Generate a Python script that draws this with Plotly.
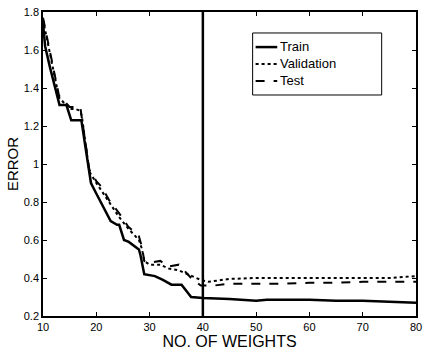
import plotly.graph_objects as go

train_x = [10, 10.4, 11.3, 13.1, 14.4, 15.3, 17.2, 18.7, 19.0, 19.9, 21.2, 22.7, 23.9, 24.3, 25.2, 26.1, 28.0, 28.3, 29.0, 31.0, 32.5, 34.1, 36.0, 37.8, 40, 45, 50, 52, 55, 60, 65, 70, 75, 80]
train_y = [1.74, 1.62, 1.51, 1.31, 1.31, 1.23, 1.23, 0.96, 0.90, 0.85, 0.78, 0.70, 0.68, 0.68, 0.60, 0.59, 0.55, 0.52, 0.42, 0.41, 0.39, 0.365, 0.365, 0.30, 0.295, 0.29, 0.28, 0.285, 0.285, 0.285, 0.28, 0.28, 0.275, 0.27]

val_x = [10, 11, 12, 13, 14, 15, 16, 17, 17.3, 18.7, 20, 21, 22.4, 24.3, 26, 28, 28.6, 29, 30, 32, 33.6, 35.5, 37.8, 39.6, 41, 45, 50, 55, 60, 65, 70, 75, 80]
val_y = [1.76, 1.62, 1.48, 1.35, 1.32, 1.29, 1.29, 1.28, 1.25, 0.96, 0.90, 0.86, 0.80, 0.72, 0.66, 0.60, 0.55, 0.49, 0.47, 0.47, 0.45, 0.44, 0.41, 0.39, 0.38, 0.395, 0.40, 0.40, 0.40, 0.40, 0.40, 0.40, 0.41]

test_x = [10, 11, 12, 13, 14, 15, 16, 17, 17.3, 18.7, 20, 21, 22.4, 24.3, 26, 28, 28.6, 29, 30, 32, 33.6, 35.5, 37.8, 39.6, 42, 45, 50, 55, 60, 65, 70, 75, 80]
test_y = [1.77, 1.63, 1.49, 1.36, 1.33, 1.30, 1.30, 1.30, 1.24, 0.97, 0.91, 0.88, 0.81, 0.74, 0.67, 0.62, 0.56, 0.49, 0.48, 0.49, 0.46, 0.47, 0.40, 0.36, 0.36, 0.37, 0.37, 0.37, 0.375, 0.375, 0.38, 0.38, 0.38]

series_names = ["Train", "Validation", "Test"]
x_ticks = [10, 20, 30, 40, 50, 60, 70, 80]
y_ticks = [0.2, 0.4, 0.6, 0.8, 1.0, 1.2, 1.4, 1.6, 1.8]
split_x = 40

FONT = "Liberation Sans, Arial, Helvetica, sans-serif"
styles = [dict(width=2.5, dash="solid"), dict(width=2, dash="dot"), dict(width=2, dash="dash")]

fig = go.Figure()
for name, xs, ys, st in zip(series_names, [train_x, val_x, test_x], [train_y, val_y, test_y], styles):
    fig.add_trace(go.Scatter(x=xs, y=ys, mode="lines", name=name,
                             line=dict(color="black", **st), showlegend=False))

fig.add_shape(type="line", x0=split_x, x1=split_x, y0=0, y1=1, xref="x", yref="paper",
              line=dict(color="black", width=2.5))

# legend drawn as box + samples + one multi-line label (paper coords)
fig.add_shape(type="rect", xref="paper", yref="paper", x0=0.562, x1=0.908, y0=0.727, y1=0.931,
              line=dict(color="black", width=1), fillcolor="white", layer="above")
LEG_FS = 13
row_px = LEG_FS * 1.3 / 304.0
mid = 0.829
rows = [mid + row_px, mid, mid - row_px]
for st, ry in zip(styles, rows):
    fig.add_shape(type="line", xref="paper", yref="paper", x0=0.570, x1=0.628, y0=ry, y1=ry,
                  line=dict(color="black", **st), layer="above")
fig.add_annotation(xref="paper", yref="paper", x=0.634, y=mid, text="<br>".join(series_names),
                   showarrow=False, xanchor="left", yanchor="middle", align="left",
                   borderpad=0, font=dict(size=LEG_FS, family=FONT, color="black"))

fig.update_layout(
    width=426, height=352,
    margin=dict(l=43, r=4, t=12, b=36),
    paper_bgcolor="white", plot_bgcolor="white",
    font=dict(family=FONT, color="black", size=11),
    showlegend=False,
    xaxis=dict(range=[10, 80], tickvals=x_ticks, ticks="inside", ticklen=4,
               showgrid=False, zeroline=False, showline=True, linecolor="black",
               linewidth=1.5, mirror="ticks", tickcolor="black",
               ticklabeloverflow="allow",
               tickfont=dict(size=11, family=FONT),
               title=dict(text="NO. OF WEIGHTS", font=dict(size=16, family=FONT), standoff=1)),
    yaxis=dict(range=[0.2, 1.8], tickvals=y_ticks, ticks="inside", ticklen=4,
               showgrid=False, zeroline=False, showline=True, linecolor="black",
               linewidth=1.5, mirror="ticks", tickcolor="black",
               ticklabeloverflow="allow",
               tickfont=dict(size=11, family=FONT),
               title=dict(text="ERROR", font=dict(size=15, family=FONT), standoff=2)),
)

fig.write_html("out.html")
